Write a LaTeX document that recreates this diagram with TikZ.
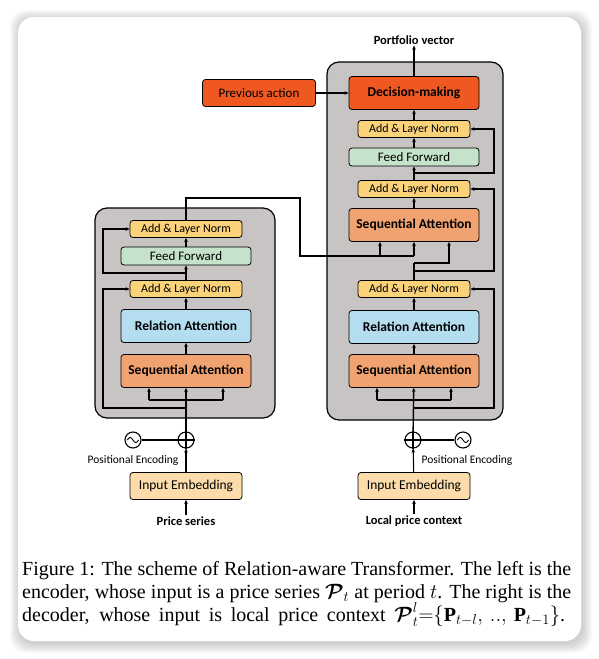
\documentclass[tikz,border=0pt]{standalone}
\usepackage{amsmath}
\usepackage{bm}
\usepackage{fontspec}
\setmainfont{Liberation Serif}
\newfontfamily\diagfont{Carlito}
\usepackage{xcolor}
\usepackage{tikz}
\usetikzlibrary{positioning,arrows.meta}

\definecolor{layercol}{RGB}{200,196,195}
\definecolor{normcol}{RGB}{250,210,122}
\definecolor{ffcol}{RGB}{197,226,202}
\definecolor{relcol}{RGB}{180,222,240}
\definecolor{seqcol}{RGB}{240,162,112}
\definecolor{dmcol}{RGB}{240,88,34}
\definecolor{embcol}{RGB}{251,220,170}

\tikzset{
  block/.style={draw=black, line width=0.8pt, rounded corners=3pt, align=center, inner sep=0pt},
  normbox/.style={block, fill=normcol, minimum width=112pt, minimum height=17pt, font=\diagfont\fontsize{12}{13}\selectfont},
  ffbox/.style={block, fill=ffcol, minimum width=130pt, minimum height=18pt, font=\diagfont\fontsize{13}{14}\selectfont},
  relbox/.style={block, fill=relcol, minimum width=130pt, minimum height=33pt, font=\diagfont\bfseries\fontsize{13.5}{15}\selectfont},
  seqbox/.style={block, fill=seqcol, minimum width=130pt, minimum height=33pt, font=\diagfont\bfseries\fontsize{13.5}{15}\selectfont},
  dmbox/.style={block, fill=dmcol, minimum width=130pt, minimum height=33pt, font=\diagfont\bfseries\fontsize{13.5}{15}\selectfont},
  embbox/.style={block, fill=embcol, minimum width=112pt, minimum height=27pt, font=\diagfont\fontsize{13.5}{15}\selectfont},
  layerbox/.style={draw=black, line width=1.2pt, fill=layercol, rounded corners=12pt},
  arr/.style={-{Stealth[length=4pt,width=3.6pt]}, line width=1.1pt},
  link/.style={line width=1.1pt},
  opcircle/.style={circle, draw=black, line width=1.1pt, minimum size=16pt, inner sep=0pt},
  ionote/.style={font=\diagfont\bfseries\fontsize{12.5}{14}\selectfont, inner sep=1pt},
  penote/.style={font=\diagfont\fontsize{11.5}{13}\selectfont, inner sep=0pt},
}

\begin{document}
\begin{tikzpicture}[x=1pt, y=-1pt]
  \useasboundingbox (0,0) rectangle (599,659);
  % card with soft shadow
  \foreach \s in {1,...,10} {
    \fill[black, opacity=0.018, rounded corners=16pt] (18-\s+2,17-\s+3) rectangle (581+\s+1,641+\s+2);
  }
  \fill[white, rounded corners=16pt] (18,17) rectangle (581,641);

  % encoder and decoder layers
  \draw[layerbox] (95,208) rectangle (275,418);  % Encoder
  \draw[layerbox] (327,62) rectangle (503,420);  % Decoder

  % Encoder blocks
  \node[normbox] (enc-norm2) at (186,229) {Add \& Layer Norm};
  \node[ffbox] (enc-ff) at (186,256) {Feed Forward};
  \node[normbox] (enc-norm1) at (186,289) {Add \& Layer Norm};
  \node[relbox] (enc-rel) at (186,326) {Relation Attention};
  \node[seqbox] (enc-seq) at (186,371) {Sequential Attention};

  % Decoder blocks
  \node[dmbox] (dec-dm) at (414,93) {Decision-making};
  \node[normbox] (dec-norm3) at (414,129) {Add \& Layer Norm};
  \node[ffbox] (dec-ff) at (414,157) {Feed Forward};
  \node[normbox] (dec-norm2) at (414,189) {Add \& Layer Norm};
  \node[seqbox] (dec-seq2) at (414,225) {Sequential Attention};
  \node[normbox] (dec-norm1) at (414,289) {Add \& Layer Norm};
  \node[relbox] (dec-rel) at (414,327) {Relation Attention};
  \node[seqbox] (dec-seq1) at (414,371) {Sequential Attention};

  \node[dmbox, minimum width=113pt, minimum height=27pt, font=\diagfont\fontsize{13}{15}\selectfont] (prev) at (259,93) {Previous action};
  \node[ionote] (portfolio) at (414,40) {Portfolio vector};

  % Inputs
  \node[opcircle] (enc-add) at (186,440) {};
  \node[opcircle] (enc-pe) at (133,440) {};
  \node[penote] (enc-pe-label) at (133,460) {Positional Encoding};
  \node[embbox] (enc-emb) at (186,486) {Input Embedding};
  \node[ionote] (enc-in) at (186,521) {Price series};

  \node[opcircle] (dec-add) at (413,440) {};
  \node[opcircle] (dec-pe) at (463,440) {};
  \node[penote] (dec-pe-label) at (467,460) {Positional Encoding};
  \node[embbox] (dec-emb) at (414,486) {Input Embedding};
  \node[ionote] (dec-in) at (414,521) {Local price context};

  % plus and sine glyphs
  \foreach \c in {enc-add,dec-add} {
    \draw[link] (\c.north) -- (\c.south);
    \draw[link] (\c.west) -- (\c.east);
  }
  \foreach \c in {enc-pe,dec-pe} {
    \draw[line width=0.9pt] (\c.center) ++(-5.6,0) sin ++(2.8,-2.6) cos ++(2.8,2.6) sin ++(2.8,2.6) cos ++(2.8,-2.6);
  }

  % Encoder connections
  \coordinate (enc-split) at (186,400);
  \coordinate (enc-res1) at (186,408);
  \coordinate (enc-res2) at (186,273);
  \coordinate (enc-out) at (186,198);
  \draw[arr] (enc-in) -- (enc-emb);
  \draw[arr] (enc-emb) -- (enc-add);
  \draw[link] (enc-pe) -- (enc-add);
  \draw[arr, line width=1.4pt] (enc-add) -- (enc-seq);
  \draw[link] ([xshift=-37pt]enc-split) -- ([xshift=37pt]enc-split);
  \draw[arr] ([xshift=-37pt]enc-split) -- ([xshift=-37pt]enc-seq.south);
  \draw[arr] ([xshift=37pt]enc-split) -- ([xshift=37pt]enc-seq.south);
  \draw[arr] (enc-res1) -- ++(-83,0) |- (enc-norm1);
  \draw[arr] (enc-seq) -- (enc-rel);
  \draw[arr] (enc-rel) -- (enc-norm1);
  \draw[arr] (enc-norm1) -- (enc-ff);
  \draw[arr] (enc-ff) -- (enc-norm2);
  \draw[arr] (enc-res2) -- ++(-83,0) |- (enc-norm2);
  \draw[link] (enc-norm2.north) -- (enc-out) -| (300,256) -- (414,256);  % Encoder output

  % Decoder connections
  \coordinate (dec-split) at (414,400);
  \coordinate (dec-res1) at (414,408);
  \coordinate (dec-query) at (414,263);
  \coordinate (dec-res2) at (414,271);
  \coordinate (dec-res3) at (414,173);
  \draw[arr] (dec-in) -- (dec-emb);
  \draw[arr] (dec-emb) -- (dec-add);
  \draw[link] (dec-add) -- (dec-pe);
  \draw[arr, line width=1.4pt] (dec-add) -- (dec-seq1);
  \draw[link] ([xshift=-37pt]dec-split) -- ([xshift=37pt]dec-split);
  \draw[arr] ([xshift=-37pt]dec-split) -- ([xshift=-37pt]dec-seq1.south);
  \draw[arr] ([xshift=37pt]dec-split) -- ([xshift=37pt]dec-seq1.south);
  \draw[arr] (dec-res1) -- ++(80,0) |- (dec-norm1);
  \draw[arr] (dec-seq1) -- (dec-rel);
  \draw[arr] (dec-rel) -- (dec-norm1);
  \draw[link, line width=1.4pt] (dec-norm1.north) -- (dec-query);
  \draw[arr] (dec-query) -- ++(35,0) -- ([xshift=35pt]dec-seq2.south);
  \draw[arr] (dec-res2) -- ++(80,0) |- (dec-norm2);
  \draw[arr] (380,256) -- (dec-seq2.south -| 380,0);
  \draw[arr] (414,256) -- (dec-seq2.south);
  \draw[arr] (dec-seq2) -- (dec-norm2);
  \draw[arr] (dec-norm2) -- (dec-ff);
  \draw[arr] (dec-ff) -- (dec-norm3);
  \draw[arr] (dec-res3) -- ++(80,0) |- (dec-norm3);
  \draw[arr] (dec-norm3) -- (dec-dm);
  \draw[arr] (prev) -- (dec-dm);
  \draw[arr] (dec-dm) -- (portfolio);

  % Caption
  \node[anchor=north west, text width=549pt, align=justify, inner sep=0pt, font=\fontsize{20}{23}\selectfont] (caption) at (22,561)
    {Figure 1: The scheme of Relation-aware Transformer. The left is the\linebreak
     encoder, whose input is a price series $\bm{\mathcal{P}}_t$ at period $t$. The right is the\linebreak
     \makebox[543pt][s]{decoder, whose input is local price context $\bm{\mathcal{P}}_t^l{=}\{\mathbf{P}_{t-l},\,..,\,\mathbf{P}_{t-1}\}$.}};
\end{tikzpicture}
\end{document}
